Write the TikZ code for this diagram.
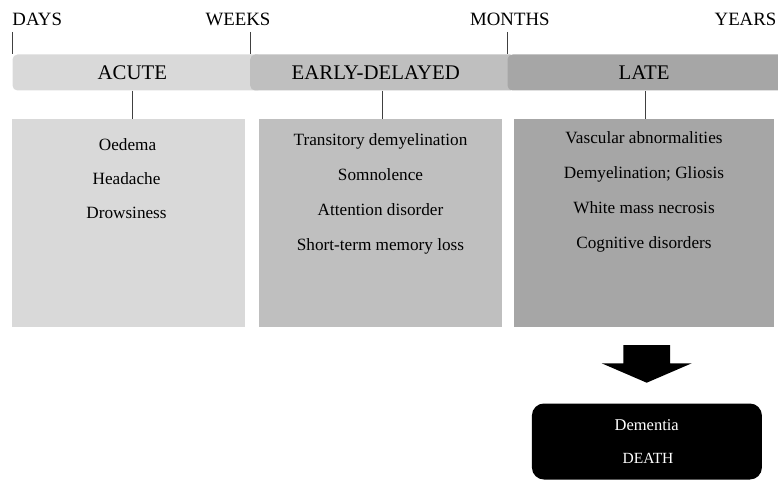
\documentclass[tikz,border=0pt]{standalone}
\usepackage{fontspec}
\setmainfont{Liberation Serif}
\definecolor{cacute}{HTML}{D9D9D9}
\definecolor{cearly}{HTML}{BFBFBF}
\definecolor{clate}{HTML}{A6A6A6}
\definecolor{cline}{HTML}{404040}
\begin{document}
\begin{tikzpicture}[x=1pt,y=-1pt,
  scalelbl/.style={anchor=base west,inner sep=0pt,font=\fontsize{18.8}{20}\selectfont},
  phasebar/.style={rounded corners=5pt,inner sep=0pt,minimum height=36pt,anchor=north west},
  phaselbl/.style={anchor=base west,inner sep=0pt,font=\fontsize{20.8}{22}\selectfont},
  symbox/.style={inner sep=0pt,anchor=north west},
  item/.style={anchor=base,inner sep=0pt,font=\fontsize{17.2}{18}\selectfont},
  tick/.style={draw=cline,line width=1pt},
  link/.style={draw=cline,line width=1pt}]
\clip (0,0) rectangle (778,481);
% time scale labels
\node[scalelbl] (days) at (12.3,25.3) {DAYS};
\node[scalelbl] (weeks) at (205.5,25.3) {WEEKS};
\node[scalelbl] (months) at (470,25.8) {MONTHS};
\node[scalelbl,anchor=base east] (years) at (776.5,25.8) {YEARS};
% phase bars
\node[phasebar,fill=cacute,minimum width=250pt] (acute) at (12.3,54.3) {};
\node[phasebar,fill=cearly,minimum width=265pt] (early) at (250,54.3) {};
\node[phasebar,fill=clate,minimum width=285pt] (late) at (507.3,54.3) {};
\node[phaselbl] (lacute) at (97.5,80) {ACUTE};
\node[phaselbl] (learly) at (291.5,80) {EARLY-DELAYED};
\node[phaselbl] (llate) at (618.5,80) {LATE};
% ticks
\coordinate (t1) at (12.5,32);
\coordinate (t2) at (250.3,32);
\coordinate (t3) at (507.5,32);
\draw[tick] (t1) -- (t1 |- acute.north);
\draw[tick] (t2) -- (t2 |- early.north);
\draw[tick] (t3) -- (t3 |- late.north);
% symptom boxes
\node[symbox,fill=cacute,minimum width=232.6pt,minimum height=207.2pt] (bacute) at (11.7,119.3) {};
\node[symbox,fill=cearly,minimum width=243pt,minimum height=207.2pt] (bearly) at (258.7,119.3) {};
\node[symbox,fill=clate,minimum width=259.3pt,minimum height=207pt] (blate) at (514,119.3) {};
% connectors
\coordinate (c1) at (132.3,0);
\coordinate (c2) at (382.3,0);
\coordinate (c3) at (645,0);
\draw[link] (c1 |- acute.south) -- (c1 |- bacute.north);
\draw[link] (c2 |- early.south) -- (c2 |- bearly.north);
\draw[link] (c3 |- late.south) -- (c3 |- blate.north);
% acute items
\node[item] (a1) at (127.5,150.5) {Oedema};
\node[item] (a2) at (126.5,184.5) {Headache};
\node[item] (a3) at (126.5,218.5) {Drowsiness};
% early items
\node[item] (e1) at (380.5,146) {Transitory demyelination};
\node[item] (e2) at (380.5,180.7) {Somnolence};
\node[item] (e3) at (380.5,215.5) {Attention disorder};
\node[item] (e4) at (380.5,250.3) {Short-term memory loss};
% late items
\node[item] (l1) at (644,143.5) {Vascular abnormalities};
\node[item] (l2) at (644,178.5) {Demyelination; Gliosis};
\node[item] (l3) at (644,213.5) {White mass necrosis};
\node[item] (l4) at (644,248.3) {Cognitive disorders};
% outcome
\fill[black] (623.3,345) -- (670,345) -- (670,363.3) -- (691.7,363.3) -- (646.7,382.7) -- (601.7,363.3) -- (623.3,363.3) -- cycle;
\node[symbox,fill=black,rounded corners=12pt,minimum width=230pt,minimum height=76pt] (outcome) at (531.7,403.3) {};
\node[item,text=white,font=\fontsize{16.5}{18}\selectfont] (o1) at (646.7,430) {Dementia};
\node[item,text=white,font=\fontsize{15.5}{16}\selectfont] (o2) at (648,463.8) {DEATH};
\end{tikzpicture}
\end{document}
